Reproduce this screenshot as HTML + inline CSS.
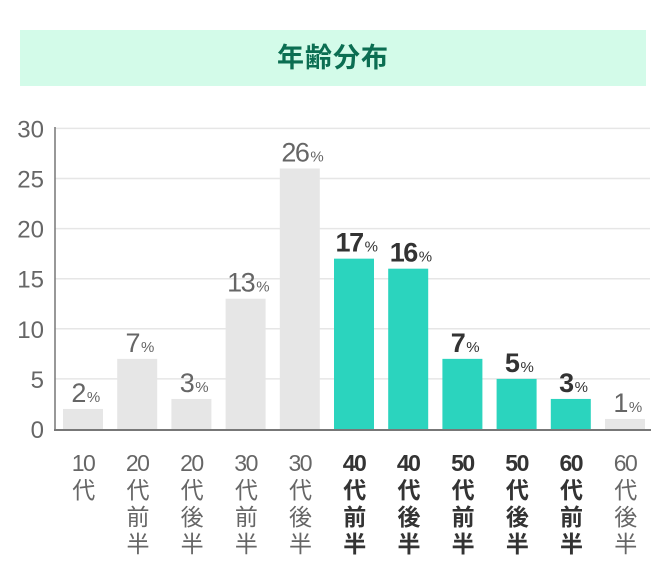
<!DOCTYPE html>
<html><head><meta charset="utf-8"><style>
body{margin:0;background:#fff;width:666px;height:577px;overflow:hidden;font-family:"Liberation Sans","Noto Sans CJK JP",sans-serif}
#title{position:absolute;left:20px;top:30px;width:626px;height:56px;background:#d3fbe9;color:#0b6e52;font-weight:bold;font-size:27px;text-align:center;line-height:56px;font-family:"Liberation Sans","Noto Sans CJK JP",sans-serif;letter-spacing:1px}
</style></head><body>
<div id="title">年齢分布</div>
<svg id="chart" width="666" height="577" style="position:absolute;left:0;top:0"></svg>
<script>
const categories=["10代","20代前半","20代後半","30代前半","30代後半","40代前半","40代後半","50代前半","50代後半","60代前半","60代後半"];
const values=[2,7,3,13,26,17,16,7,5,3,1];
const highlight=[false,false,false,false,false,true,true,true,true,true,false];
const yTicks=[0,5,10,15,20,25,30];
const NS="http://www.w3.org/2000/svg";
const svg=document.getElementById('chart');
const y0=429,pxPer=10.02,x0=63,step=54.2,bw=40;
const y=v=>y0-v*pxPer;
const x=i=>x0+i*step;
function mk(t,a){const e=document.createElementNS(NS,t);for(const k in a)e.setAttribute(k,a[k]);svg.appendChild(e);return e;}
yTicks.forEach(t=>{
 if(t>0){const g=mk('line',{x1:55,x2:650,y1:y(t),y2:y(t),stroke:'#e6e6e6','stroke-width':1.5});
 
 }
 const l=mk('text',{x:44,y:y(t)+9,'text-anchor':'end','font-size':24,fill:'#666','font-family':'Liberation Sans, sans-serif'});
 l.textContent=t;
 
 
});
const ax=mk('line',{x1:55,x2:55,y1:127,y2:y0+1,stroke:'#777','stroke-width':1.5});


values.forEach((v,i)=>{
 const h=highlight[i];
 const r=mk('rect',{x:x(i),y:y(v),width:bw,height:y0-y(v),fill:h?'#2bd4be':'#e6e6e6'});
 
 
 const t=mk('text',{x:x(i)+bw/2+2,y:y(v)-7,'text-anchor':'middle',fill:h?'#333':'#666','font-weight':h?'bold':'normal','font-size':27,'letter-spacing':-1.5,'font-family':'Liberation Sans, sans-serif'});
 t.innerHTML=v+'<tspan font-size="15" font-weight="normal" dx="2">%</tspan>';
 
 
 const c=categories[i];const parts=[c.slice(0,2)].concat(c.slice(2).split(''));
 parts.forEach((p,j)=>{
  const lt=mk('text',{x:x(i)+bw/2,y:471+j*27,'text-anchor':'middle',fill:h?'#333':'#666','font-weight':h?'bold':'normal','font-size':23,'letter-spacing':-1.5,'font-family':'Liberation Sans, Noto Sans CJK JP, sans-serif'});
  lt.textContent=p;
  
  
 });
});
const xa=mk('line',{x1:54,x2:651,y1:y0+1,y2:y0+1,stroke:'#777','stroke-width':2});


</script>
</body></html>
